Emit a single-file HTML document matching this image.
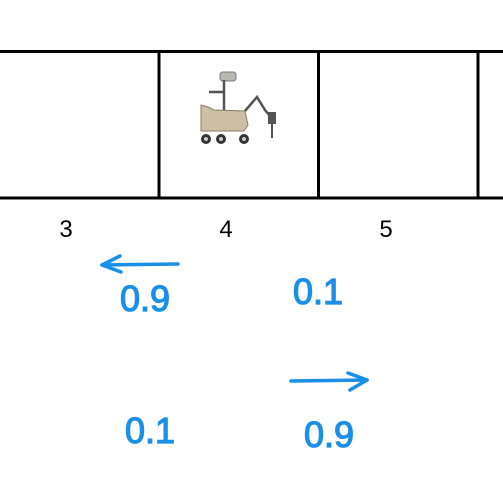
<!DOCTYPE html>
<html><head><meta charset="utf-8"><style>
html,body{margin:0;padding:0;background:#fff;width:503px;height:493px;overflow:hidden}
</style></head><body>
<svg width="503" height="493" viewBox="0 0 503 493" xmlns="http://www.w3.org/2000/svg">
<g stroke="#000" stroke-width="3" fill="none">
<line x1="0" y1="51.5" x2="503" y2="51.5"/>
<line x1="0" y1="198" x2="503" y2="198"/>
<line x1="159" y1="50" x2="159" y2="199.5"/>
<line x1="318.5" y1="50" x2="318.5" y2="199.5"/>
<line x1="478" y1="50" x2="478" y2="199.5"/>
</g>
<g>
<rect x="220" y="72" width="16" height="9" rx="3" fill="#b8b8b0" stroke="#777"/>
<line x1="224" y1="80" x2="224" y2="110" stroke="#555" stroke-width="2.5"/>
<line x1="209" y1="92" x2="224" y2="92" stroke="#555" stroke-width="2.5"/>
<polygon points="201,105 208,107 214,110 245,111 248,125 244,131 201,131" fill="#cdbfa3" stroke="#8a7d66"/>
<polyline points="245,111 257,97 265,110 270,116" fill="none" stroke="#555" stroke-width="2.5"/>
<rect x="268" y="112" width="8" height="12" fill="#555"/>
<line x1="272" y1="123" x2="272" y2="138" stroke="#555" stroke-width="2"/>
<circle cx="206" cy="139" r="5" fill="#333"/><circle cx="206" cy="139" r="2" fill="#ccc"/>
<circle cx="221" cy="139" r="5" fill="#333"/><circle cx="221" cy="139" r="2" fill="#ccc"/>
<circle cx="244" cy="139" r="5" fill="#333"/><circle cx="244" cy="139" r="2" fill="#ccc"/>
</g>
<g font-family="Liberation Sans, sans-serif" font-size="24" fill="#000" text-anchor="middle">
<text x="66" y="237">3</text>
<text x="226" y="237">4</text>
<text x="386" y="237">5</text>
</g>
<g stroke="#1a8fe8" stroke-width="3.5" fill="none" stroke-linecap="round" stroke-linejoin="round">
<g><line x1="102" y1="265" x2="178" y2="264"/><polyline points="120,256 102,265 121,272"/></g>
<g><line x1="291" y1="381" x2="367" y2="380"/><polyline points="348,373 367,380 350,390"/></g>
</g>
<g font-family="Liberation Sans, sans-serif" font-size="36" fill="#1a8fe8" stroke="#1a8fe8" stroke-width="1.2" text-anchor="middle">
<text x="145" y="311">0.9</text>
<text x="318" y="304">0.1</text>
<text x="150" y="443">0.1</text>
<text x="329" y="447">0.9</text>
</g>
</svg>
</body></html>
